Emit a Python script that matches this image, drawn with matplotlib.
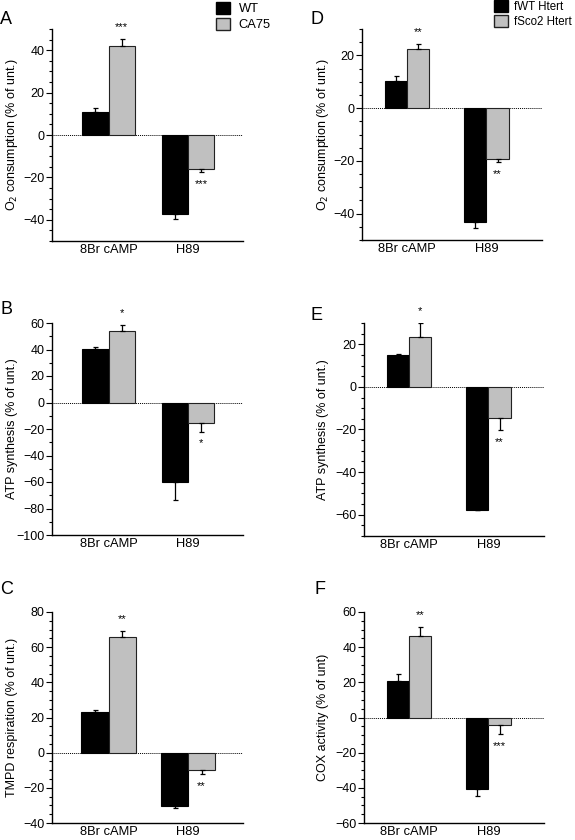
import numpy as np
import matplotlib.pyplot as plt
from matplotlib.patches import Patch

plt.rcParams['font.family'] = ['Liberation Sans', 'DejaVu Sans']

groups = ['8Br cAMP', 'H89']

# panel A / B / C : WT vs CA75
a_wt = [11, -37.3]
a_wt_err = [1.8, 2.2]
a_mut = [42.2, -16.2]
a_mut_err = [3.0, 1.2]
a_stars = ['***', '***']

b_wt = [40.5, -60]
b_wt_err = [1.3, 13.5]
b_mut = [53.6, -15.1]
b_mut_err = [5.0, 6.8]
b_stars = ['*', '*']

c_wt = [23.1, -30.2]
c_wt_err = [1.4, 1.2]
c_mut = [65.8, -9.7]
c_mut_err = [3.2, 2.3]
c_stars = ['**', '**']

# panel D / E / F : fWT Htert vs fSco2 Htert
d_wt = [10.4, -43.1]
d_wt_err = [1.8, 2.5]
d_mut = [22.4, -19.2]
d_mut_err = [1.8, 1.3]
d_stars = ['**', '**']

e_wt = [15.0, -57.6]
e_wt_err = [0.6, 0.4]
e_mut = [23.6, -14.8]
e_mut_err = [6.2, 5.4]
e_stars = ['*', '**']

f_wt = [20.8, -40.7]
f_wt_err = [3.8, 4.2]
f_mut = [46.4, -4.4]
f_mut_err = [5.1, 5.1]
f_stars = ['**', '***']

W, H = 575, 840
GRAY = '#c0c0c0'
FS = 9.3


def panel(box, xlim, width, wt, wt_err, mut, mut_err, stars, ylim, major, minor, ylabel, label_x,
          letter, letter_xy):
    l, t, r, b = box
    ax = fig.add_axes([l / W, 1 - b / H, (r - l) / W, (b - t) / H])
    x = np.arange(len(groups))
    ax.bar(x - width / 2, wt, width, color='black', edgecolor='black', linewidth=0.8, zorder=2)
    ax.bar(x + width / 2, mut, width, color=GRAY, edgecolor='#222222', linewidth=0.8, zorder=2)
    for xs, vals, errs in [(x - width / 2, wt, wt_err), (x + width / 2, mut, mut_err)]:
        for xi, v, e in zip(xs, vals, errs):
            yerr = [[0], [e]] if v >= 0 else [[e], [0]]
            ax.errorbar([xi], [v], yerr=yerr, fmt='none', ecolor='black', elinewidth=0.9,
                        capsize=1.8, capthick=0.9, zorder=3)
    for xi, v, e, s in zip(x + width / 2, mut, mut_err, stars):
        if v >= 0:
            ax.annotate(s, (xi, v + e), xytext=(0, 5), textcoords='offset points',
                        ha='center', va='bottom', fontsize=8, annotation_clip=False)
        else:
            ax.annotate(s, (xi, v - e), xytext=(0, -5), textcoords='offset points',
                        ha='center', va='top', fontsize=8, annotation_clip=False)
    ax.axhline(0, color='black', linestyle=(0, (1, 1)), linewidth=0.7, zorder=1)
    ax.set_xlim(xlim)
    ax.set_ylim(ylim)
    start = np.ceil(ylim[0] / major) * major
    ax.set_yticks(np.arange(start, ylim[1] + 0.1, major))
    ax.set_yticks(np.arange(ylim[0], ylim[1] + 0.1, minor), minor=True)
    ax.set_xticks(x)
    ax.set_xticklabels(groups, fontsize=FS)
    ax.tick_params(axis='x', length=0, pad=2)
    ax.tick_params(axis='y', which='major', length=4, width=0.8, labelsize=9, pad=1.5)
    ax.tick_params(axis='y', which='minor', length=2.5, width=0.8)
    ax.spines['top'].set_visible(False)
    ax.spines['right'].set_visible(False)
    ax.spines['left'].set_linewidth(1.0)
    ax.spines['bottom'].set_linewidth(1.0)
    ax.set_ylabel(ylabel, fontsize=9)
    ax.yaxis.label.set_verticalalignment('center')
    ax.yaxis.set_label_coords((label_x - l) / (r - l), 0.5)
    fig.text(letter_xy[0] / W, 1 - letter_xy[1] / H, letter, fontsize=13, ha='left', va='top')
    return ax


fig = plt.figure(figsize=(W / 100, H / 100), dpi=100)

panel((52, 29, 243, 241), (-0.71, 1.69), 0.33, a_wt, a_wt_err, a_mut, a_mut_err, a_stars,
      (-50, 50), 20, 5, 'O$_2$ consumption (% of unt.)', 12, 'A', (0, 11))
panel((52, 323, 243, 535), (-0.71, 1.69), 0.33, b_wt, b_wt_err, b_mut, b_mut_err, b_stars,
      (-100, 60), 20, 10, 'ATP synthesis (% of unt.)', 12, 'B', (0, 301))
panel((52, 612, 243, 823), (-0.71, 1.69), 0.34, c_wt, c_wt_err, c_mut, c_mut_err, c_stars,
      (-40, 80), 20, 5, 'TMPD respiration (% of unt.)', 12, 'C', (0, 581))
panel((362, 29, 542, 240), (-0.57, 1.70), 0.28, d_wt, d_wt_err, d_mut, d_mut_err, d_stars,
      (-50, 30), 20, 5, 'O$_2$ consumption (% of unt.)', 323, 'D', (310, 11))
panel((364, 323, 544, 536), (-0.57, 1.70), 0.28, e_wt, e_wt_err, e_mut, e_mut_err, e_stars,
      (-70, 30), 20, 5, 'ATP synthesis (% of unt.)', 323, 'E', (311, 307))
panel((364, 612, 544, 823), (-0.57, 1.70), 0.28, f_wt, f_wt_err, f_mut, f_mut_err, f_stars,
      (-60, 60), 20, 5, 'COX activity (% of unt)', 323, 'F', (315, 581))

h1 = [Patch(facecolor='black', edgecolor='black'), Patch(facecolor=GRAY, edgecolor='#222222')]
fig.legend(h1, ['WT', 'CA75'], loc='upper left', bbox_to_anchor=(213 / W, 1 + 1 / H),
           frameon=False, fontsize=FS, handlelength=1.1, handleheight=1.1,
           labelspacing=0.2, handletextpad=0.7, borderaxespad=0, borderpad=0.2)
fig.legend(h1, ['fWT Htert', 'fSco2 Htert'], loc='upper left', bbox_to_anchor=(492 / W, 1 + 2 / H),
           frameon=False, fontsize=8.3, handlelength=1.2, handleheight=1.2,
           labelspacing=0.2, handletextpad=0.5, borderaxespad=0, borderpad=0.2)

fig.savefig('out.png', dpi=100)
